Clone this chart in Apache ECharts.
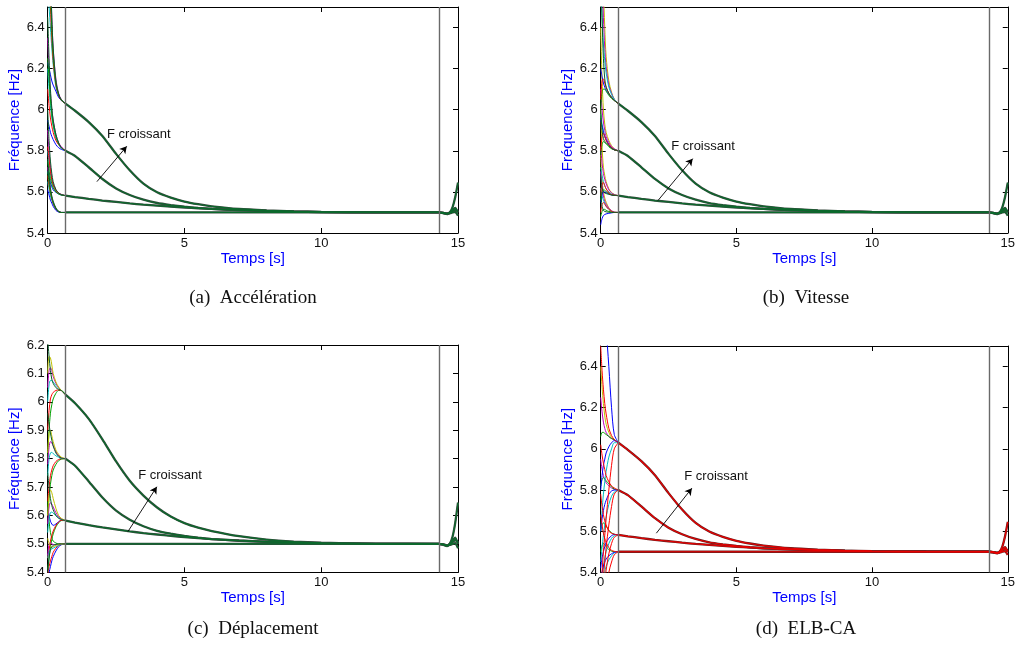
<!DOCTYPE html>
<html><head><meta charset="utf-8">
<script src="https://cdn.jsdelivr.net/npm/echarts@6/dist/echarts.min.js"></script>
<style>html,body{margin:0;padding:0;background:#fff}#c{width:1018px;height:651px}</style>
</head><body><div id="c"></div>
<script>
// ---------- DATA ----------
const X_TICKS = [0, 5, 10, 15];
const V_LINES = [0.65, 14.3];
const CAPTIONS = ['(a)  Accélération', '(b)  Vitesse', '(c)  Déplacement', '(d)  ELB-CA'];
const ANNOT_TEXT = 'F croissant';
// arrow [t0,f0,t1,f1] and text anchor [t,f] per panel
const ARROW_A = [1.80, 5.65, 2.89, 5.822];  const TEXT_A = [2.17, 5.879];
const ARROW_B = [2.11, 5.558, 3.39, 5.762]; const TEXT_B = [2.60, 5.822];
const ARROW_C = [2.93, 5.543, 3.99, 5.701]; const TEXT_C = [3.31, 5.742];
const ARROW_D = [2.05, 5.59, 3.36, 5.809];  const TEXT_D = [3.08, 5.865];

const T_MAIN  = [0.65, 1, 1.5, 2, 2.5, 3, 3.5, 4, 4.5, 5, 5.5, 6, 7, 8, 9, 10, 12, 14.3, 14.45, 14.6, 14.7, 14.8, 14.9, 15];
const MAIN_1  = [6.03, 5.995, 5.94, 5.872, 5.785, 5.705, 5.64, 5.598, 5.572, 5.553, 5.54, 5.53, 5.517, 5.51, 5.505, 5.502, 5.5, 5.5, 5.497, 5.492, 5.5, 5.525, 5.575, 5.645];
const MAIN_1C = [6.025, 5.995, 5.94, 5.868, 5.79, 5.722, 5.67, 5.628, 5.596, 5.573, 5.557, 5.545, 5.527, 5.515, 5.508, 5.504, 5.5, 5.5, 5.497, 5.492, 5.5, 5.525, 5.575, 5.645];
const MAIN_2  = [5.80, 5.775, 5.72, 5.663, 5.617, 5.585, 5.562, 5.546, 5.536, 5.528, 5.522, 5.517, 5.511, 5.507, 5.504, 5.502, 5.5, 5.5, 5.498, 5.494, 5.5, 5.512, 5.522, 5.5];
const MAIN_3  = [5.582, 5.575, 5.566, 5.558, 5.551, 5.544, 5.538, 5.533, 5.528, 5.524, 5.52, 5.517, 5.512, 5.508, 5.505, 5.503, 5.501, 5.5, 5.498, 5.495, 5.498, 5.506, 5.514, 5.505];
const MAIN_4  = [5.5, 5.5, 5.5, 5.5, 5.5, 5.5, 5.5, 5.5, 5.5, 5.5, 5.5, 5.5, 5.5, 5.5, 5.5, 5.5, 5.5, 5.5, 5.498, 5.494, 5.496, 5.5, 5.503, 5.485];

const T_TR = [0, 0.05, 0.1, 0.15, 0.2, 0.3, 0.4, 0.5, 0.65];
// (a) Accélération
const A_MAGENTA = [[7.2, 6.9, 6.65, 6.45, 6.3, 6.15, 6.08, 6.05, 6.03], [6.35, 6.2, 6.08, 6.0, 5.95, 5.88, 5.84, 5.82, 5.80], [5.9, 5.8, 5.72, 5.67, 5.64, 5.61, 5.595, 5.588, 5.582], [5.72, 5.66, 5.61, 5.575, 5.55, 5.52, 5.505, 5.5, 5.5]];
const A_RED     = [[6.9, 6.7, 6.5, 6.35, 6.24, 6.12, 6.07, 6.045, 6.03], [6.1, 6.02, 5.96, 5.92, 5.89, 5.85, 5.83, 5.815, 5.80], [5.82, 5.76, 5.7, 5.66, 5.635, 5.607, 5.593, 5.586, 5.582], [5.68, 5.63, 5.595, 5.567, 5.545, 5.517, 5.504, 5.5, 5.5]];
const A_BLUE    = [[6.23, 6.2, 6.17, 6.14, 6.12, 6.09, 6.06, 6.045, 6.03], [5.95, 5.92, 5.89, 5.87, 5.855, 5.83, 5.815, 5.807, 5.80], [5.7, 5.67, 5.645, 5.625, 5.61, 5.598, 5.59, 5.585, 5.582], [5.61, 5.585, 5.56, 5.545, 5.53, 5.51, 5.502, 5.5, 5.5]];
const A_CYAN    = [[6.6, 6.5, 6.4, 6.3, 6.22, 6.11, 6.065, 6.045, 6.03], [6.2, 6.1, 6.02, 5.96, 5.92, 5.86, 5.83, 5.813, 5.80], [5.8, 5.74, 5.69, 5.655, 5.63, 5.603, 5.592, 5.585, 5.582], [5.65, 5.61, 5.58, 5.56, 5.54, 5.515, 5.503, 5.5, 5.5]];
const A_GREEN   = [[7.0, 6.75, 6.55, 6.4, 6.27, 6.13, 6.075, 6.048, 6.03], [6.25, 6.15, 6.05, 5.98, 5.93, 5.87, 5.835, 5.815, 5.8], [5.75, 5.7, 5.665, 5.64, 5.62, 5.6, 5.59, 5.585, 5.582], [5.7, 5.645, 5.6, 5.57, 5.548, 5.518, 5.504, 5.5, 5.5]];
const A_DARK    = [[7.5, 7.0, 6.7, 6.45, 6.3, 6.14, 6.075, 6.047, 6.03], [6.45, 6.25, 6.1, 6.01, 5.95, 5.88, 5.838, 5.815, 5.8], [6.0, 5.85, 5.75, 5.69, 5.65, 5.612, 5.595, 5.587, 5.582], [5.76, 5.68, 5.62, 5.58, 5.555, 5.522, 5.506, 5.5, 5.5]];
// (b) Vitesse
const B_RED     = [[6.05, 6.14, 6.15, 6.13, 6.11, 6.08, 6.06, 6.045, 6.03], [5.8, 5.87, 5.885, 5.87, 5.85, 5.83, 5.815, 5.805, 5.80], [5.58, 5.64, 5.645, 5.63, 5.615, 5.595, 5.587, 5.584, 5.582], [5.5, 5.54, 5.548, 5.54, 5.53, 5.515, 5.505, 5.5, 5.5]];
const B_GREEN   = [[6.0, 6.09, 6.1, 6.1, 6.09, 6.07, 6.055, 6.045, 6.03], [5.78, 5.83, 5.845, 5.84, 5.835, 5.82, 5.81, 5.805, 5.80], [5.56, 5.6, 5.61, 5.608, 5.602, 5.592, 5.586, 5.583, 5.582], [5.48, 5.505, 5.515, 5.515, 5.51, 5.505, 5.502, 5.5, 5.5]];
const B_BLUE    = [[6.2, 6.16, 6.13, 6.11, 6.095, 6.075, 6.06, 6.045, 6.03], [5.95, 5.92, 5.89, 5.87, 5.855, 5.83, 5.815, 5.805, 5.80], [5.55, 5.585, 5.6, 5.6, 5.597, 5.59, 5.585, 5.583, 5.582], [5.44, 5.47, 5.485, 5.49, 5.493, 5.496, 5.498, 5.5, 5.5]];
const B_MAGENTA = [[7.0, 6.7, 6.45, 6.3, 6.21, 6.12, 6.08, 6.05, 6.03], [6.1, 6.0, 5.94, 5.9, 5.87, 5.84, 5.82, 5.81, 5.80], [5.82, 5.74, 5.69, 5.66, 5.64, 5.61, 5.595, 5.587, 5.582], [5.7, 5.63, 5.58, 5.555, 5.54, 5.52, 5.508, 5.502, 5.5]];
const B_CYAN    = [[6.6, 6.45, 6.32, 6.24, 6.18, 6.11, 6.075, 6.05, 6.03], [5.98, 5.93, 5.9, 5.87, 5.855, 5.83, 5.815, 5.805, 5.8], [5.72, 5.68, 5.65, 5.63, 5.615, 5.6, 5.59, 5.585, 5.582], [5.62, 5.58, 5.56, 5.545, 5.53, 5.515, 5.505, 5.5, 5.5]];
const B_YELLOW  = [[7.5, 7.0, 6.6, 6.4, 6.26, 6.14, 6.085, 6.052, 6.03], [6.4, 6.15, 6.0, 5.93, 5.89, 5.85, 5.825, 5.81, 5.8], [6.0, 5.82, 5.72, 5.68, 5.65, 5.615, 5.597, 5.588, 5.582], [5.78, 5.66, 5.6, 5.57, 5.55, 5.522, 5.508, 5.502, 5.5]];
const B_DARK    = [[6.8, 6.45, 6.25, 6.15, 6.11, 6.08, 6.06, 6.045, 6.03], [6.0, 5.9, 5.86, 5.845, 5.84, 5.825, 5.812, 5.805, 5.8], [5.68, 5.62, 5.6, 5.595, 5.592, 5.588, 5.585, 5.583, 5.582], [5.6, 5.53, 5.51, 5.505, 5.503, 5.501, 5.5, 5.5, 5.5]];
// (c) Déplacement
const C_YELLOW  = [[6.1, 6.16, 6.155, 6.13, 6.1, 6.07, 6.052, 6.04, 6.025], [5.82, 5.89, 5.9, 5.88, 5.86, 5.83, 5.815, 5.805, 5.8], [5.6, 5.67, 5.69, 5.68, 5.66, 5.625, 5.6, 5.59, 5.582], [5.52, 5.5, 5.49, 5.488, 5.49, 5.495, 5.498, 5.5, 5.5]];
const C_MAGENTA = [[6.05, 6.11, 6.12, 6.11, 6.09, 6.065, 6.05, 6.04, 6.025], [5.78, 5.84, 5.86, 5.855, 5.845, 5.825, 5.81, 5.803, 5.8], [5.57, 5.63, 5.645, 5.64, 5.63, 5.61, 5.595, 5.588, 5.582], [5.46, 5.5, 5.505, 5.5, 5.498, 5.497, 5.498, 5.5, 5.5]];
const C_CYAN    = [[6.0, 6.06, 6.075, 6.075, 6.07, 6.058, 6.048, 6.04, 6.025], [5.74, 5.8, 5.82, 5.822, 5.818, 5.81, 5.805, 5.801, 5.8], [5.54, 5.59, 5.61, 5.612, 5.608, 5.6, 5.592, 5.587, 5.582], [5.45, 5.475, 5.48, 5.482, 5.485, 5.49, 5.495, 5.498, 5.5]];
const C_RED     = [[5.9, 5.97, 6.01, 6.025, 6.033, 6.04, 6.042, 6.04, 6.025], [5.65, 5.7, 5.74, 5.76, 5.775, 5.79, 5.797, 5.8, 5.8], [5.45, 5.48, 5.51, 5.53, 5.545, 5.565, 5.577, 5.583, 5.582], [5.39, 5.42, 5.44, 5.455, 5.47, 5.485, 5.494, 5.498, 5.5]];
const C_GREEN   = [[5.8, 5.9, 5.96, 5.99, 6.01, 6.03, 6.04, 6.04, 6.025], [5.6, 5.66, 5.71, 5.74, 5.76, 5.78, 5.793, 5.798, 5.8], [5.41, 5.45, 5.49, 5.515, 5.535, 5.56, 5.574, 5.582, 5.582], [5.65, 5.58, 5.54, 5.52, 5.51, 5.503, 5.5, 5.5, 5.5]];
const C_BLUE    = [[5.63, 5.6, 5.58, 5.57, 5.565, 5.57, 5.578, 5.583, 5.582], [5.38, 5.4, 5.42, 5.44, 5.455, 5.475, 5.49, 5.497, 5.5]];
const C_DARK    = [[6.22, 6.16, 6.11, 6.08, 6.065, 6.05, 6.044, 6.04, 6.025], [5.96, 5.92, 5.89, 5.865, 5.845, 5.82, 5.808, 5.802, 5.8], [5.75, 5.7, 5.66, 5.635, 5.62, 5.6, 5.59, 5.586, 5.582], [5.4, 5.45, 5.48, 5.49, 5.495, 5.498, 5.5, 5.5, 5.5]];
// (d) ELB-CA
const D_BLUE    = [[8.0, 7.5, 7.0, 6.8, 6.6, 6.4, 6.2, 6.07, 6.03], [5.8, 5.87, 5.92, 5.95, 5.98, 6.01, 6.03, 6.04, 6.03], [5.6, 5.66, 5.7, 5.73, 5.75, 5.78, 5.795, 5.8, 5.8], [5.42, 5.47, 5.5, 5.525, 5.545, 5.565, 5.578, 5.584, 5.582], [5.35, 5.4, 5.43, 5.45, 5.465, 5.48, 5.49, 5.497, 5.5]];
const D_CYAN    = [[5.6, 5.7, 5.78, 5.84, 5.89, 5.96, 6.0, 6.03, 6.03], [5.45, 5.52, 5.58, 5.63, 5.67, 5.73, 5.77, 5.79, 5.8], [5.3, 5.37, 5.43, 5.47, 5.5, 5.54, 5.565, 5.578, 5.582], [5.25, 5.31, 5.36, 5.4, 5.43, 5.46, 5.48, 5.494, 5.5]];
const D_RED     = [[6.5, 6.38, 6.29, 6.22, 6.17, 6.1, 6.065, 6.045, 6.03], [5.3, 5.4, 5.5, 5.58, 5.66, 5.8, 5.92, 6.0, 6.03], [6.02, 5.97, 5.93, 5.9, 5.87, 5.84, 5.82, 5.81, 5.8], [5.2, 5.3, 5.38, 5.45, 5.52, 5.63, 5.72, 5.78, 5.8], [5.78, 5.72, 5.68, 5.65, 5.63, 5.6, 5.59, 5.585, 5.582], [5.1, 5.2, 5.28, 5.35, 5.41, 5.49, 5.54, 5.57, 5.582], [5.68, 5.63, 5.59, 5.565, 5.545, 5.52, 5.507, 5.502, 5.5], [5.0, 5.1, 5.18, 5.25, 5.31, 5.4, 5.45, 5.485, 5.5]];
const D_GREEN   = [[6.06, 6.08, 6.08, 6.075, 6.07, 6.06, 6.05, 6.045, 6.03], [5.82, 5.85, 5.86, 5.855, 5.845, 5.83, 5.815, 5.805, 5.8], [5.6, 5.63, 5.64, 5.635, 5.625, 5.605, 5.592, 5.585, 5.582], [5.5, 5.53, 5.54, 5.535, 5.525, 5.51, 5.503, 5.5, 5.5]];
const D_YELLOW  = [[6.4, 6.3, 6.22, 6.16, 6.12, 6.08, 6.055, 6.045, 6.03]];
const D_MAGENTA = [[6.25, 6.18, 6.13, 6.1, 6.08, 6.06, 6.05, 6.043, 6.03], [5.95, 5.9, 5.87, 5.85, 5.835, 5.82, 5.81, 5.803, 5.8]];

// ---------- LAYOUT / STYLE ----------
const COL = {blue:'#0000ff', green:'#00a000', red:'#ff0000', cyan:'#00bfbf', magenta:'#bf00bf', yellow:'#bfbf00', dark:'#0b5e2a'};
const PANELS = [
  {grid:{left:47.7, top:7, width:410.3, height:226}, y:[5.4, 6.5, 0.2], main:[MAIN_1, MAIN_2, MAIN_3, MAIN_4], mainColor:'#0b6a2c', mainUnder:'#3a4a40',
   tr:[[A_MAGENTA,'magenta'],[A_CYAN,'cyan'],[A_BLUE,'blue'],[A_RED,'red'],[A_GREEN,'green'],[A_DARK,'dark']], arrow:ARROW_A, text:TEXT_A, cap:[253, 298]},
  {grid:{left:600.7, top:7, width:410.3, height:226}, y:[5.4, 6.5, 0.2], main:[MAIN_1, MAIN_2, MAIN_3, MAIN_4], mainColor:'#0b6a2c', mainUnder:'#3a4a40',
   tr:[[B_YELLOW,'yellow'],[B_MAGENTA,'magenta'],[B_CYAN,'cyan'],[B_BLUE,'blue'],[B_GREEN,'green'],[B_RED,'red'],[B_DARK,'dark']], arrow:ARROW_B, text:TEXT_B, cap:[806, 298]},
  {grid:{left:47.7, top:345, width:410.3, height:227.3}, y:[5.4, 6.2, 0.1], main:[MAIN_1C, MAIN_2, MAIN_3, MAIN_4], mainColor:'#0b6a2c', mainUnder:'#3a4a40',
   tr:[[C_BLUE,'blue'],[C_GREEN,'green'],[C_RED,'red'],[C_CYAN,'cyan'],[C_MAGENTA,'magenta'],[C_YELLOW,'yellow'],[C_DARK,'dark']], arrow:ARROW_C, text:TEXT_C, cap:[253, 629]},
  {grid:{left:600.7, top:346, width:410.3, height:226.3}, y:[5.4, 6.5, 0.2], main:[MAIN_1, MAIN_2, MAIN_3, MAIN_4], mainColor:'#e80000', mainUnder:'#6a2020',
   tr:[[D_YELLOW,'yellow'],[D_MAGENTA,'magenta'],[D_GREEN,'green'],[D_CYAN,'cyan'],[D_BLUE,'blue'],[D_RED,'red']], arrow:ARROW_D, text:TEXT_D, cap:[806, 629]}
];
const FONT = 'Liberation Sans, Arial, Helvetica, sans-serif';

const grids = [], xAxes = [], yAxes = [], series = [];
PANELS.forEach((p, i) => {
  grids.push(Object.assign({containLabel:false}, p.grid));
  const axLine = {show:true, onZero:false, lineStyle:{color:'#000', width:1}};
  const tick = {show:true, inside:true, length:5, lineStyle:{color:'#000', width:1}};
  xAxes.push({gridIndex:i, type:'value', min:X_TICKS[0], max:X_TICKS[X_TICKS.length-1], interval:X_TICKS[1]-X_TICKS[0],
    axisLine:axLine, axisTick:tick, splitLine:{show:false},
    axisLabel:{color:'#111', fontSize:13, fontFamily:FONT, margin:4},
    name:'Temps [s]', nameLocation:'middle', nameGap:15, nameTextStyle:{color:'#0000ff', fontSize:15, fontFamily:FONT}});
  xAxes.push({gridIndex:i, type:'value', position:'top', min:X_TICKS[0], max:X_TICKS[X_TICKS.length-1], interval:X_TICKS[1]-X_TICKS[0],
    axisLine:axLine, axisTick:tick, splitLine:{show:false}, axisLabel:{show:false}});
  yAxes.push({gridIndex:i, type:'value', min:p.y[0], max:p.y[1], interval:p.y[2],
    axisLine:axLine, axisTick:tick, splitLine:{show:false},
    axisLabel:{color:'#111', fontSize:13, fontFamily:FONT, margin:3, showMaxLabel: p.y[1] === 6.2},
    name:'Fréquence [Hz]', nameLocation:'middle', nameGap:23, nameTextStyle:{color:'#0000ff', fontSize:15, fontFamily:FONT}});
  yAxes.push({gridIndex:i, type:'value', position:'right', min:p.y[0], max:p.y[1], interval:p.y[2],
    axisLine:axLine, axisTick:tick, splitLine:{show:false}, axisLabel:{show:false}});

  const mk = (T, vals, color, width, z, sm) => ({type:'line', xAxisIndex:2*i, yAxisIndex:2*i, symbol:'none', smooth:sm,
    data:T.map((t, k) => [t, vals[k]]), lineStyle:{color, width}, z, silent:true, animation:false, clip:true});
  p.tr.forEach(([set, c]) => set.forEach(vals => series.push(mk(T_TR, vals, COL[c], 1, 2, 0.3))));
  p.main.forEach(vals => series.push(mk(T_MAIN, vals, p.mainUnder, 2.3, 3, 0.15)));
  p.main.forEach(vals => series.push(mk(T_MAIN, vals, p.mainColor, 1.2, 4, 0.15)));
  series.push({type:'line', xAxisIndex:2*i, yAxisIndex:2*i, data:[], silent:true, animation:false,
    markLine:{silent:true, symbol:'none', animation:false, label:{show:false},
      lineStyle:{color:'#6a6a6a', width:1.4, type:'solid'}, data:V_LINES.map(v => ({xAxis:v}))}});
  const a = p.arrow;
  series.push({type:'line', xAxisIndex:2*i, yAxisIndex:2*i, data:[], silent:true, animation:false,
    markLine:{silent:true, symbol:['none','arrow'], symbolSize:[6, 7], animation:false, label:{show:false},
      lineStyle:{color:'#000', width:0.9, type:'solid'},
      data:[[{coord:[a[0], a[1]]}, {coord:[a[2], a[3]]}]]}});
});

const chart = echarts.init(document.getElementById('c'), null, {renderer:'canvas'});
chart.setOption({animation:false, backgroundColor:'#fff', grid:grids, xAxis:xAxes, yAxis:yAxes, series});

const graphics = [];
PANELS.forEach((p, i) => {
  const pt = chart.convertToPixel({xAxisIndex:2*i, yAxisIndex:2*i}, p.text);
  graphics.push({type:'text', x:pt[0], y:pt[1], style:{text:ANNOT_TEXT, font:'13px ' + FONT, fill:'#111', textAlign:'left', textVerticalAlign:'middle'}});
  graphics.push({type:'text', x:p.cap[0], y:p.cap[1], style:{text:CAPTIONS[i], font:'19px "Liberation Serif", "Times New Roman", serif', fill:'#111', textAlign:'center', textVerticalAlign:'middle'}});
});
chart.setOption({graphic:graphics});
</script></body></html>
